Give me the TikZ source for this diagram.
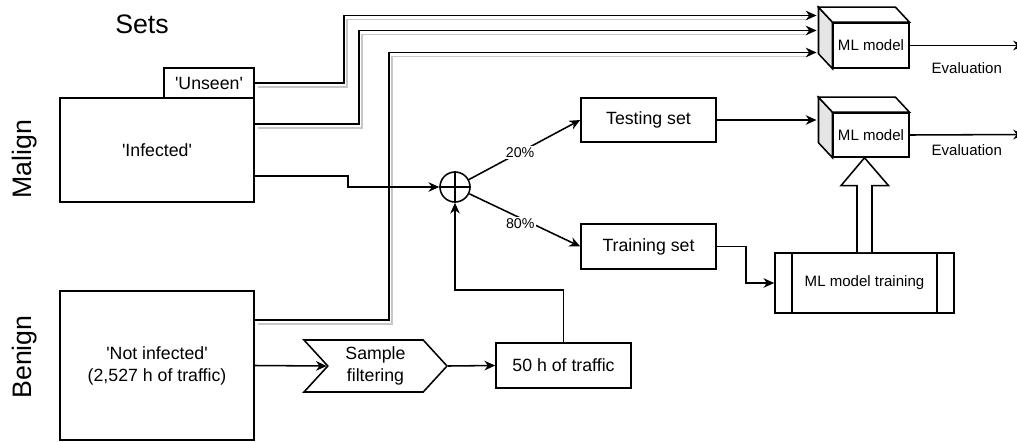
\documentclass[tikz,border=0pt]{standalone}
\usepackage{fontspec}
\setmainfont{Liberation Sans}
\usetikzlibrary{arrows.meta,calc,positioning,shapes.symbols}

\begin{document}
\begin{tikzpicture}[x=0.025cm,y=-0.025cm,font=\fontsize{10.7}{15.6}\selectfont,
		box/.style={draw,line width=1.1pt,fill=white,align=center},
		setbox/.style={box,font=\fontsize{12.6}{15.6}\selectfont},
		flow/.style={line width=1.1pt,-{Stealth[length=2.7mm,width=2.4mm]}},
		shade/.style={preaction={draw=black!22,line width=1.1pt,arrows=-,shorten >=8pt,
			transform canvas={shift={(3,4)}}}},
		big/.style={font=\fontsize{19}{22}\selectfont},
		pct/.style={fill=white,inner sep=1pt,font=\fontsize{10.1}{12}\selectfont}]
		\useasboundingbox (0,0) rectangle (1017,441);
		
		% row and column titles
		\node[big] (sets) at (142,24) {Sets};
		\node[big,rotate=90] (malign) at (25,159) {Malign};
		\node[big,rotate=90] (benign) at (25,357) {Benign};
		
		% data sets
		\node[setbox,minimum width=4.85cm,minimum height=2.6cm] (infected) at (157,150) {\textquotesingle Infected\textquotesingle};
		\node[setbox,minimum width=2.25cm,minimum height=0.75cm] (unseen) at (209,83) {\textquotesingle Unseen\textquotesingle};
		\node[setbox,minimum width=4.85cm,minimum height=3.725cm] (notinf) at (157,365.5) {\textquotesingle Not infected\textquotesingle\\(2,527 h of traffic)};
		
		\node[setbox,shape=signal,signal from=west,signal to=east,signal pointer angle=95,
			minimum width=3.575cm,minimum height=1.3cm] (filter) at (375.5,366) {Sample\\filtering};
		\node[setbox,minimum width=3.375cm,minimum height=1.125cm] (hours) at (563.5,365.5) {50 h of traffic};
		
		\node[draw,circle,line width=1.1pt,minimum size=0.75cm,inner sep=0pt] (sum) at (455,187) {};
		\draw[line width=1.4pt] (sum.north) -- (sum.south) (sum.west) -- (sum.east);
		
		\node[setbox,minimum width=3.375cm,minimum height=1.1cm] (testing) at (648.5,120) {Testing set};
		\node[setbox,minimum width=3.375cm,minimum height=1.125cm] (training) at (648.5,246.5) {Training set};
		\node[box,minimum width=4.475cm,minimum height=1.5cm] (mltrain) at (864.5,283) {ML model training};
		\draw[line width=1.1pt] ($(mltrain.north west)+(18,0)$) -- ($(mltrain.south west)+(18,0)$);
		\draw[line width=1.1pt] ($(mltrain.north east)+(-18,0)$) -- ($(mltrain.south east)+(-18,0)$);
		
		% the two models, drawn as cubes
		\node[box,minimum width=1.85cm,minimum height=1.125cm] (ml1) at (871,45.5) {ML model};
		\node[box,minimum width=1.85cm,minimum height=1.1cm] (ml2) at (871,135) {ML model};
		\foreach \c in {ml1,ml2}{
			\draw[line width=1.1pt,fill=gray!20] (\c.north west) -- ++(-14,-15) -- ($(\c.south west)+(-14,-15)$) -- (\c.south west) -- cycle;
			\draw[line width=1.1pt,fill=white] (\c.north west) -- ++(-14,-15) -- ($(\c.north east)+(-14,-15)$) -- (\c.north east) -- cycle;
		}
		\coordinate (out1) at (1024,45.5);
		\coordinate (out2) at (1024,134.5);
		
		% inputs of the first model
		\draw[flow,shade] (unseen.east) -- ++(89,0) |- ($(ml1.west)+(-16,-30)$);
		\draw[flow,shade] ($(infected.east)+(0,-26)$) -- ++(104,0) |- ($(ml1.west)+(-16,-15)$);
		\draw[flow,shade] ($(notinf.north east)+(0,30)$) -- ++(134,0) |- ($(ml1.west)+(-16,7)$);
		
		% sampling and split
		\draw[flow] ($(infected.east)+(0,26)$) -- ++(93,0) |- (sum.west);
		\draw[flow] (notinf.east) -- (filter.west);
		\draw[flow] (filter.east) -- (hours.west);
		\draw[flow] (hours.north) -- ++(0,-52) -| (sum.south);
		\draw[flow] (sum) -- node[pct,pos=.46] {20\%} (testing.west);
		\draw[flow] (sum) -- node[pct,pos=.46,yshift=-4] {80\%} (training.west);
		\draw[flow] (training.east) -- ++(29,0) |- (mltrain.west);
		\draw[flow] (testing.east) -- ($(ml2.west)+(-16,-15)$);
		
		% trained model goes up
		\draw[line width=1.1pt,fill=white] ($(mltrain.north)+(-7.5,0)$) -- ++(0,-66.6) -- ++(-16,0)
			-- (mltrain.north |- ml2.south) -- ($(mltrain.north)+(24,-66.6)$) -- ++(-16.5,0)
			-- ($(mltrain.north)+(7.5,0)$);
		
		% evaluation outputs
		\draw[flow] (ml1.east) -- node[below=0.3cm] {Evaluation} (out1);
		\draw[flow] (ml2.east) -- node[below=0.12cm] {Evaluation} (out2);
	\end{tikzpicture}
\end{document}
